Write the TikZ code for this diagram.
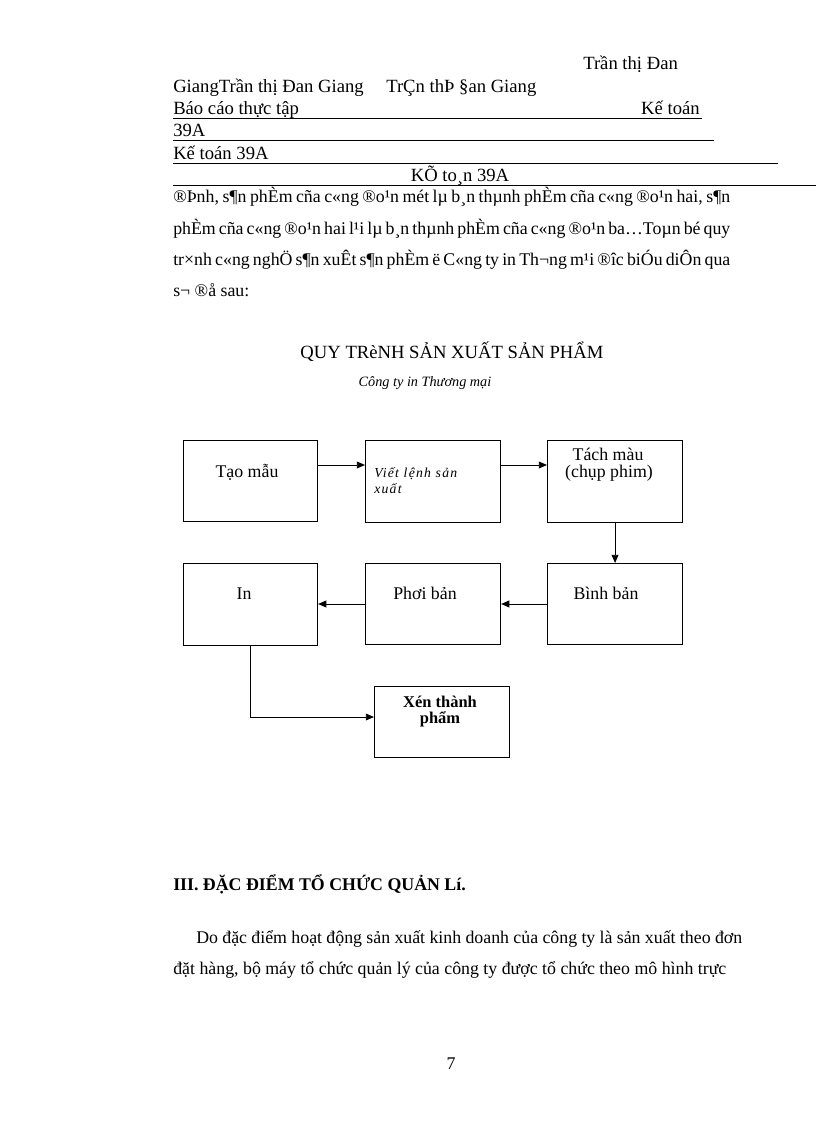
\documentclass[tikz,border=0pt]{standalone}
\usepackage{fontspec}
\setmainfont{Liberation Serif}
\newfontfamily\spacedfont[LetterSpace=9]{Liberation Serif}
\usetikzlibrary{arrows.meta}
\def\u{0.7292pt}
\begin{document}
\begin{tikzpicture}[x=0.7292pt,y=-0.7292pt,
  txt/.style={anchor=base west, inner sep=0, font=\fontsize{13}{15}\selectfont},
  htxt/.style={anchor=base west, inner sep=0, font=\fontsize{13.6}{15}\selectfont},
  ctxt/.style={anchor=base, inner sep=0, font=\fontsize{13}{15}\selectfont},
  box/.style={draw, line width=0.8pt, anchor=north west, inner sep=0},
  arr/.style={-{Triangle[length=6pt,width=5pt]}, line width=0.7pt},
  uline/.style={line width=0.6pt}]
\useasboundingbox (0,0) rectangle (816,1123);
% header
\node[htxt] (h1) at (583,70) {Trần thị Đan};
\node[htxt] (h2) at (173,93) {GiangTrần thị Đan Giang};
\node[htxt] (h2b) at (386,93) {TrÇn thÞ §an Giang};
\node[htxt] (h3) at (173,115) {Báo cáo thực tập};
\node[htxt, anchor=base east] (h3b) at (700,115) {Kế toán};
\draw[uline] (173,118) -- (702,118);
\node[htxt] (h4) at (173,137) {39A};
\draw[uline] (173,140) -- (714,140);
\node[htxt] (h5) at (173,160) {Kế toán 39A};
\draw[uline] (173,163) -- (778,163);
\node[ctxt, font=\fontsize{13.6}{15}\selectfont] (h6) at (460,182) {KÕ to¸n 39A};
\draw[uline] (173,185) -- (816,185);
% garbled paragraph
\node[txt] (p1) at (173,203) {\makebox[406.2pt][s]{®Þnh, s¶n phÈm cña c«ng ®o¹n mét lµ b¸n thµnh phÈm cña c«ng ®o¹n hai, s¶n}};
\node[txt] (p2) at (173,235) {\makebox[406.2pt][s]{phÈm cña c«ng ®o¹n hai l¹i lµ b¸n thµnh phÈm cña c«ng ®o¹n ba…Toµn bé quy}};
\node[txt] (p3) at (173,266) {\makebox[406.2pt][s]{tr×nh c«ng nghÖ s¶n xuÊt s¶n phÈm ë C«ng ty in Th¬ng m¹i ®îc biÓu diÔn qua}};
\node[txt] (p4) at (173,297) {s¬ ®å sau:};
% title
\node[ctxt, font=\fontsize{13.6}{16}\selectfont] (title) at (452,359) {QUY TRèNH SẢN XUẤT SẢN PHẨM};
\node[ctxt, font=\fontsize{10.4}{12}\selectfont\itshape] (sub) at (425,386) {Công ty in Thương mại};
% boxes
\node[box, minimum width=134*\u, minimum height=81*\u] (tao) at (183,440) {};
\node[box, minimum width=135*\u, minimum height=82*\u] (viet) at (365,440) {};
\node[box, minimum width=135*\u, minimum height=82*\u] (tach) at (547,440) {};
\node[box, minimum width=134*\u, minimum height=82*\u] (in) at (183,563) {};
\node[box, minimum width=135*\u, minimum height=81*\u] (phoi) at (365,563) {};
\node[box, minimum width=135*\u, minimum height=81*\u] (binh) at (547,563) {};
\node[box, minimum width=135*\u, minimum height=71*\u] (xen) at (374,686) {};
% box labels
\node[ctxt] (ltao) at (247,477) {Tạo mẫu};
\node[txt, font=\fontsize{10}{12}\spacedfont\itshape] (lviet1) at (374,477) {Viết lệnh sản};
\node[txt, font=\fontsize{10}{12}\spacedfont\itshape] (lviet2) at (374,493) {xuất};
\node[ctxt] (ltach1) at (608,460) {Tách màu};
\node[ctxt] (ltach2) at (609,477) {(chụp phim)};
\node[ctxt] (lin) at (244,599) {In};
\node[ctxt] (lphoi) at (425,599) {Phơi bản};
\node[ctxt] (lbinh) at (606,599) {Bình bản};
\node[ctxt, font=\fontsize{12}{14}\selectfont\bfseries] (lxen1) at (440,707) {Xén thành};
\node[ctxt, font=\fontsize{12}{14}\selectfont\bfseries] (lxen2) at (440,723) {phẩm};
% connectors
\coordinate (r1) at (0,465);
\coordinate (r2) at (0,604);
\coordinate (r3) at (0,717);
\draw[arr] (tao.east |- r1) -- (viet.west |- r1);
\draw[arr] (viet.east |- r1) -- (tach.west |- r1);
\draw[arr] (tach.south) -- (binh.north);
\draw[arr] (binh.west |- r2) -- (phoi.east |- r2);
\draw[arr] (phoi.west |- r2) -- (in.east |- r2);
\draw[arr] (in.south) -- (in.south |- r3) -- (xen.west |- r3);
% section
\node[txt, font=\fontsize{13}{15}\selectfont\bfseries] (sec) at (173,890) {III. ĐẶC ĐIỂM TỔ CHỨC QUẢN Lí.};
\node[txt] (q1) at (196,943) {\makebox[398.1pt][s]{Do đặc điểm hoạt động sản xuất kinh doanh của công ty là sản xuất theo đơn}};
\node[txt] (q2) at (173,974) {đặt hàng, bộ máy tổ chức quản lý của công ty được tổ chức theo mô hình trực};
\node[ctxt] (pg) at (451,1069) {7};
\end{tikzpicture}
\end{document}
